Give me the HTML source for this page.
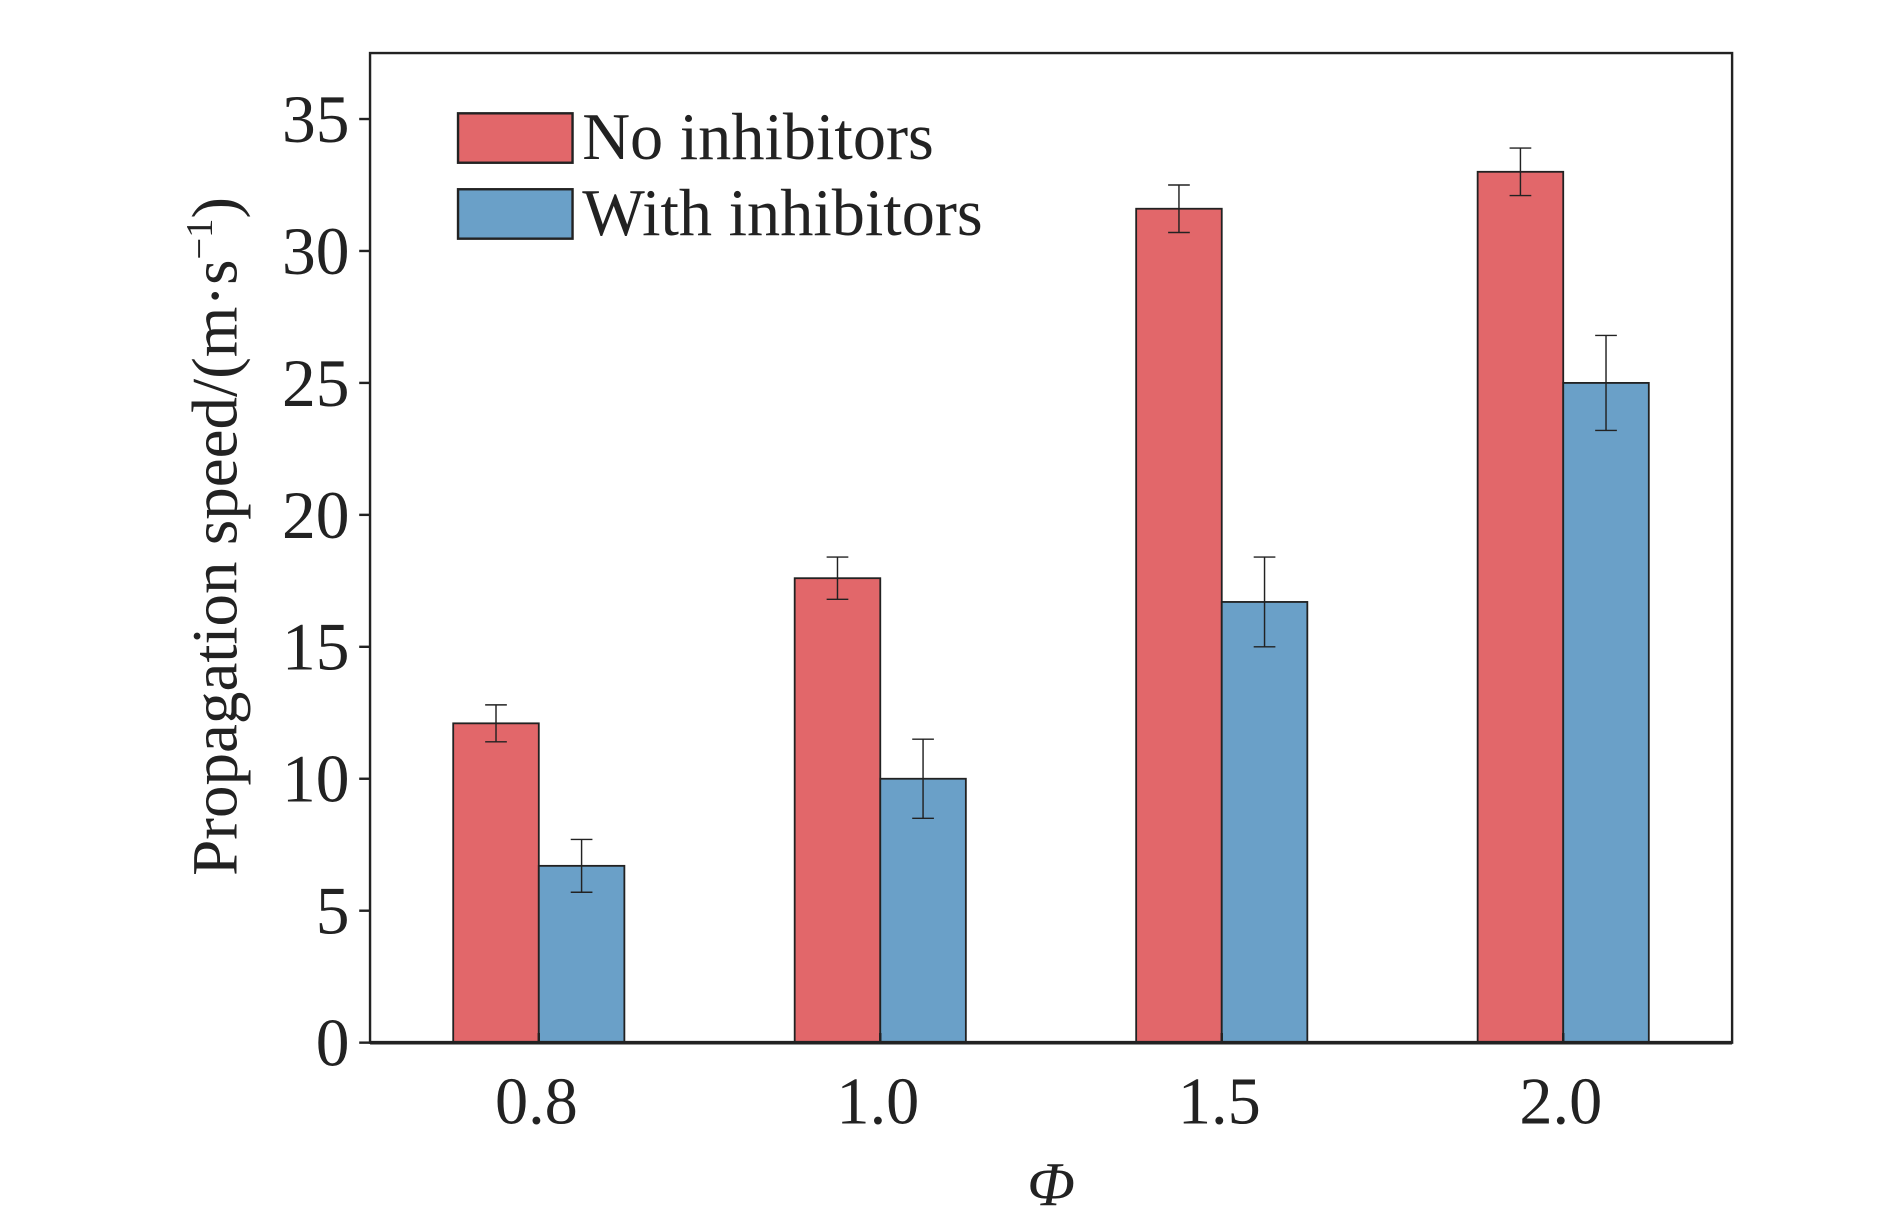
<!DOCTYPE html>
<html><head><meta charset="utf-8"><style>html,body{margin:0;padding:0;background:#fff}svg{display:block}</style></head>
<body>
<svg id="chart" width="1890" height="1219" viewBox="0 0 1568 1011.3" xmlns="http://www.w3.org/2000/svg" font-family="Liberation Serif, serif" fill="#222"></svg>
<script>
const categories = ["0.8","1.0","1.5","2.0"];
const noInhib = [12.1,17.6,31.6,33.0];
const noInhibErr = [0.7,0.8,0.9,0.9];
const withInhib = [6.7,10.0,16.7,25.0];
const withInhibErr = [1.0,1.5,1.7,1.8];
const yTicks = [0,5,10,15,20,25,30,35];

const svg = document.getElementById('chart');
const NS = 'http://www.w3.org/2000/svg';
const L=307,R=1437,T=44,B=865,YMAX=37.5;
const y = v => B - v/YMAX*(B-T);
const xc = i => 447 + i*283.3;
const BW = 71;
function el(tag, attrs, parent){const e=document.createElementNS(NS,tag);for(const k in attrs)e.setAttribute(k,attrs[k]);(parent||svg).appendChild(e);return e;}

function drawBar(i, v, err, x0, color, name){
  const r = el('rect',{x:x0,y:y(v),width:BW,height:B-y(v),fill:color,stroke:'#222','stroke-width':1.5});
  
  
  const cx = x0+BW/2;
  const g = el('g',{stroke:'#222','stroke-width':1.2});
  
  
  el('line',{x1:cx,x2:cx,y1:y(v+err),y2:y(v-err)},g);
  el('line',{x1:cx-9,x2:cx+9,y1:y(v+err),y2:y(v+err)},g);
  el('line',{x1:cx-9,x2:cx+9,y1:y(v-err),y2:y(v-err)},g);
}
categories.forEach((c,i)=>{
  drawBar(i,noInhib[i],noInhibErr[i],xc(i)-BW,'#e2676a','no-inhibitors');
  drawBar(i,withInhib[i],withInhibErr[i],xc(i),'#6aa0c8','with-inhibitors');
  const t = el('text',{x:xc(i)-2,y:932,'font-size':55,'text-anchor':'middle'});
  t.textContent = c;
  
  
  const tk = el('line',{x1:xc(i),x2:xc(i),y1:B,y2:B-8,stroke:'#222','stroke-width':2});
  
  
});
yTicks.forEach(v=>{
  const tk = el('line',{x1:L-9,x2:L,y1:y(v),y2:y(v),stroke:'#222','stroke-width':2});
  
  
  const t = el('text',{x:L-17,y:y(v)+19,'font-size':56,'text-anchor':'end'});
  t.textContent = v;
  
  
});
const frame = el('rect',{x:L,y:T,width:R-L,height:B-T,fill:'none',stroke:'#222','stroke-width':2});


const xa = el('line',{x1:L,x2:R,y1:B,y2:B,stroke:'#222','stroke-width':3});


</script>
<script>
(function(){
const svg=document.getElementById('chart');const NS='http://www.w3.org/2000/svg';
function el(tag,a,p){const e=document.createElementNS(NS,tag);for(const k in a)e.setAttribute(k,a[k]);(p||svg).appendChild(e);return e;}
const yt=el('text',{transform:'translate(196,445) rotate(-90)','font-size':54,'text-anchor':'middle'});
yt.innerHTML='Propagation speed/(m·s<tspan dy="-20" font-size="32">−1</tspan><tspan dy="20">)</tspan>';


const xt=el('text',{x:872,y:1000,'font-size':52,'font-style':'italic','text-anchor':'middle'});
xt.textContent='Φ';


const items=[['No inhibitors','#e2676a',94],['With inhibitors','#6aa0c8',157]];
items.forEach(([lab,col,yy],k)=>{
  const g=el('g',{});
  
  
  el('rect',{x:380,y:yy,width:95,height:41,fill:col,stroke:'#222','stroke-width':2},g);
  const t=el('text',{x:483,y:yy+38,'font-size':55},g);t.textContent=lab;
});
})();
</script>
</body></html>
